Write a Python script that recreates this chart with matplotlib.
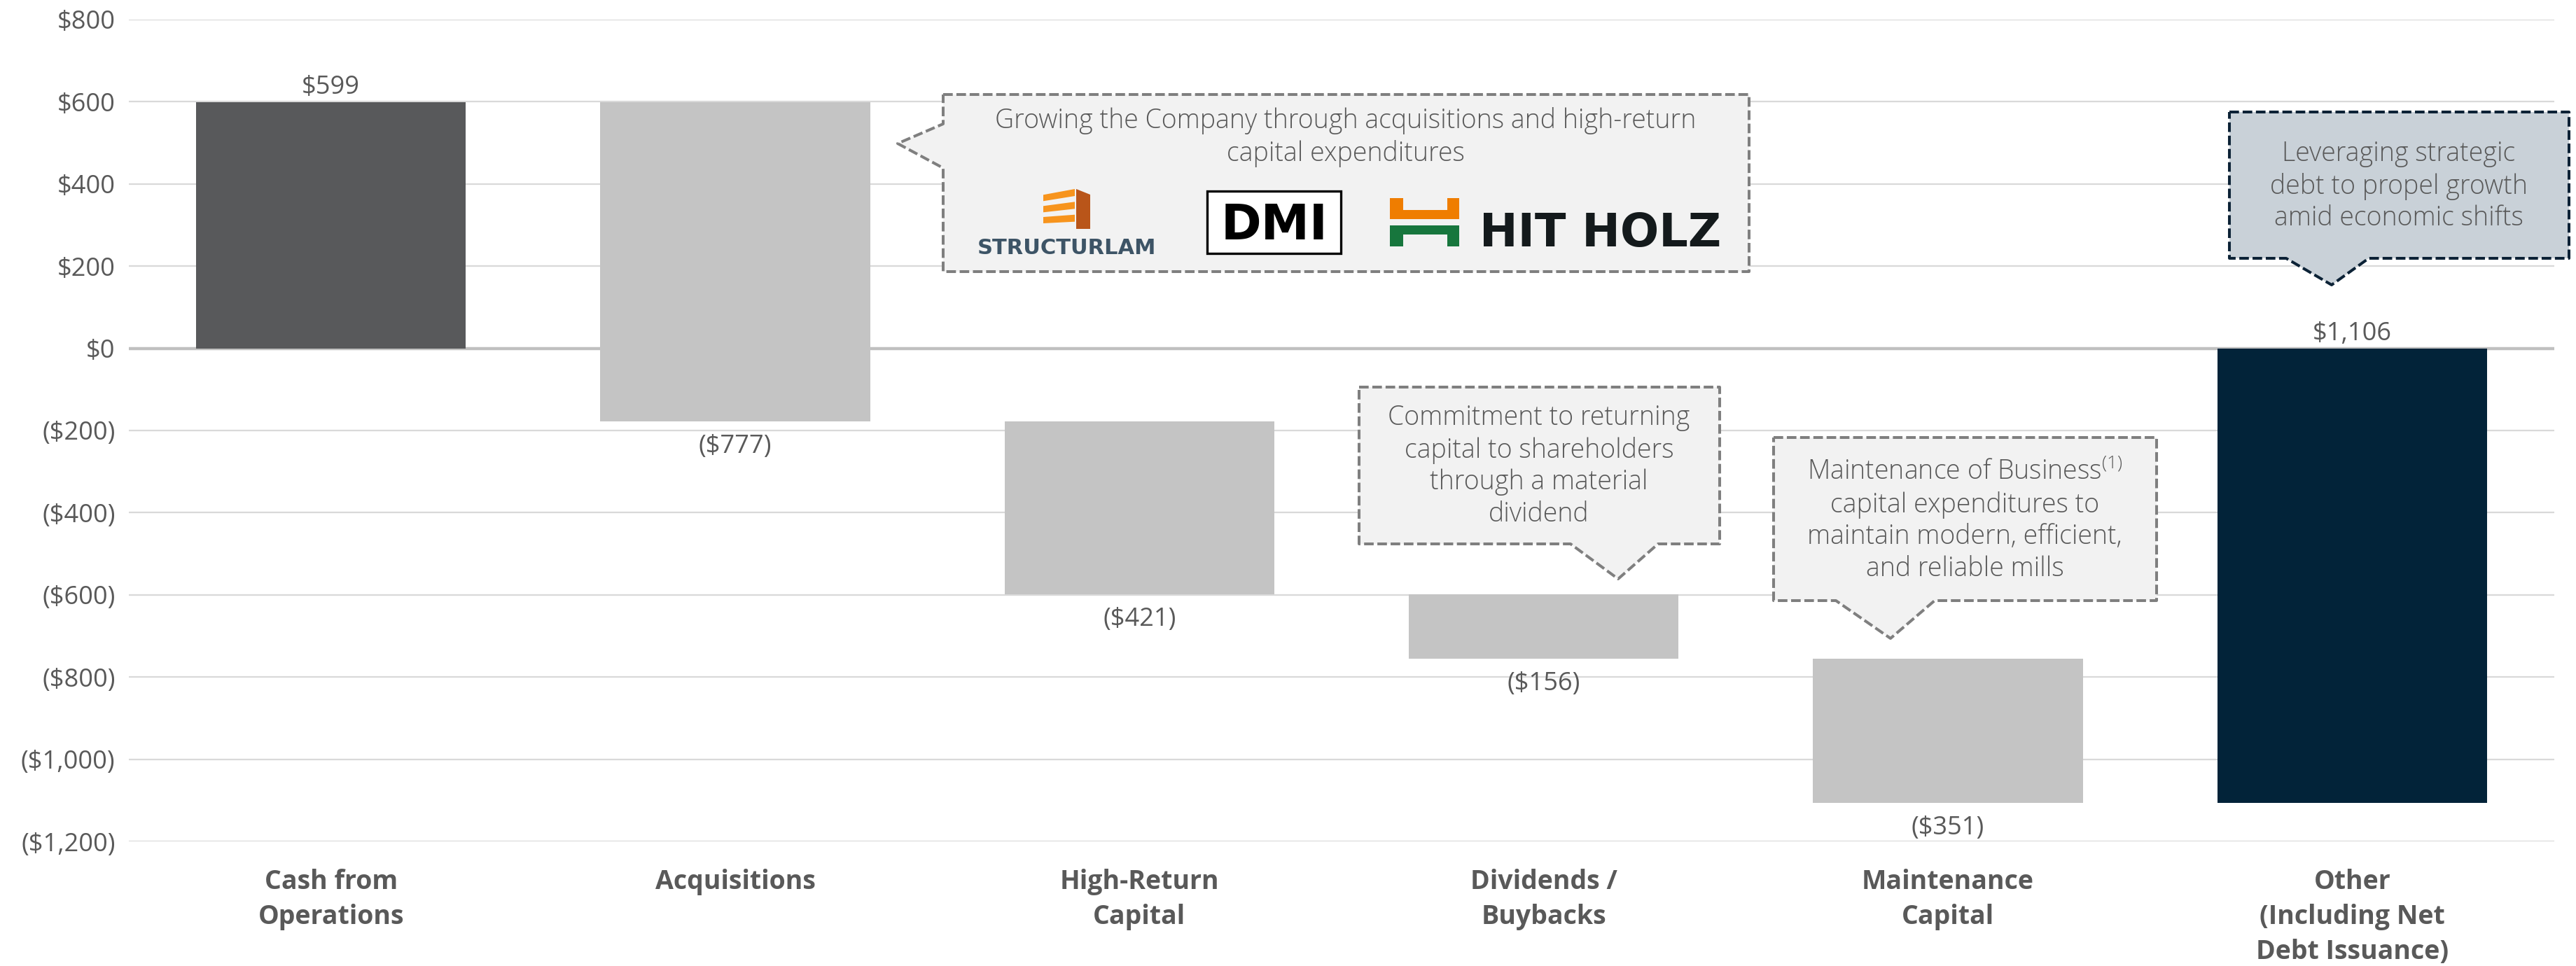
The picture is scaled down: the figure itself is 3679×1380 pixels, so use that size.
import matplotlib
matplotlib.use("Agg")
import matplotlib.pyplot as plt
from matplotlib.patches import Polygon, Rectangle
from matplotlib.transforms import Affine2D

# ---------------- data ----------------
categories = ["Cash from\nOperations", "Acquisitions", "High-Return\nCapital",
              "Dividends /\nBuybacks", "Maintenance\nCapital",
              "Other\n(Including Net\nDebt Issuance)"]
flows = [599, -777, -421, -156, -351]          # sequential cash movements
value_labels = ["$599", "($777)", "($421)", "($156)", "($351)", "$1,106"]
y_ticks = [800, 600, 400, 200, 0, -200, -400, -600, -800, -1000, -1200]
y_tick_labels = ["$800", "$600", "$400", "$200", "$0", "($200)", "($400)",
                 "($600)", "($800)", "($1,000)", "($1,200)"]

callout_acq = "Growing the Company through acquisitions and high-return\ncapital expenditures"
callout_div = "Commitment to returning\ncapital to shareholders\nthrough a material\ndividend"
callout_mnt = ("Maintenance of Business$^{\\mathregular{(1)}}$\ncapital expenditures to\n"
               "maintain modern, efficient,\nand reliable mills")
callout_oth = "Leveraging strategic\ndebt to propel growth\namid economic shifts"

# ---------------- style ----------------
W, H = 3679, 1380
TXT = "#595959"
FONT = ["Open Sans", "DejaVu Sans"]
LIGHT = ["Open Sans Light", "Open Sans", "DejaVu Sans"]
plt.rcParams["font.family"] = FONT

fig = plt.figure(figsize=(W / 100, H / 100), dpi=100, facecolor="white")
ax = fig.add_axes([184 / W, 1 - 1202 / H, (3648 - 184) / W, (1202 - 28) / H])

# waterfall geometry from the flows
bottoms, heights = [], []
level = 0
for f in flows:
    bottoms.append(level)
    heights.append(f)
    level += f
bottoms.append(0)          # balancing "Other" bar
heights.append(level)
colors = ["#58595b"] + ["#c4c4c4"] * 4 + ["#022339"]
xs = list(range(len(categories)))

ax.bar(xs, heights, bottom=bottoms, width=0.667, color=colors, zorder=3)

for i, lab in enumerate(value_labels):
    if i == 0:
        ax.annotate(lab, (xs[i], bottoms[i] + heights[i]), xytext=(0, 2),
                    textcoords="offset points", ha="center", va="bottom",
                    fontsize=26, color=TXT, zorder=5)
    elif i == len(value_labels) - 1:
        ax.annotate(lab, (xs[i], 0), xytext=(0, 2), textcoords="offset points",
                    ha="center", va="bottom", fontsize=26, color=TXT, zorder=5)
    else:
        ax.annotate(lab, (xs[i], bottoms[i] + heights[i]), xytext=(0, -13),
                    textcoords="offset points", ha="center", va="top",
                    fontsize=26, color=TXT, zorder=5)

ax.set_xlim(-0.5, len(categories) - 0.5)
ax.set_ylim(-1200, 800)
ax.set_yticks(y_ticks, y_tick_labels)
ax.set_xticks(xs, categories)
for t in ax.get_xticklabels():
    t.set_fontweight("bold")
    t.set_linespacing(1.42)
ax.tick_params(axis="y", length=0, pad=14, labelsize=26, labelcolor=TXT)
ax.tick_params(axis="x", length=0, pad=28, labelsize=27, labelcolor=TXT)
ax.grid(axis="y", color="#d9d9d9", lw=1.6, zorder=0)
ax.set_axisbelow(True)
ax.axhline(0, color="#c0c0c0", lw=3.2, zorder=2)
for s in ax.spines.values():
    s.set_visible(False)

# ---------------- callouts (figure-pixel layout) ----------------
pxt = Affine2D().scale(1 / W, -1 / H).translate(0, 1) + fig.transFigure
DASH = (0, (3.4, 1.3))


def callout(verts, fc, ec, text, cx, cy):
    p = Polygon(verts, closed=True, transform=pxt, facecolor=fc, edgecolor=ec,
                lw=2.9, linestyle=DASH, joinstyle="round", zorder=4)
    fig.add_artist(p)
    fig.text(cx, cy, text, transform=pxt, ha="center", va="center",
             fontsize=27, color=TXT, fontweight="light", linespacing=1.25,
             family=LIGHT, zorder=5)


callout([(1347, 135), (2498, 135), (2498, 388), (1347, 388), (1347, 240),
         (1282, 205), (1347, 177)], "#f2f2f2", "#7f7f7f", callout_acq, 1922, 196)
callout([(1941, 553), (2456, 553), (2456, 777), (2368, 777), (2311, 827),
         (2243, 777), (1941, 777)], "#f2f2f2", "#7f7f7f", callout_div, 2198, 666)
callout([(2533, 625), (3080, 625), (3080, 858), (2763, 858), (2700, 912),
         (2622, 858), (2533, 858)], "#f2f2f2", "#7f7f7f", callout_mnt, 2806, 744)
callout([(3184, 160), (3669, 160), (3669, 369), (3383, 369), (3330, 407),
         (3265, 369), (3184, 369)], "#c9d1d8", "#0c2236", callout_oth, 3426, 266)

# ---------------- logos inside the acquisitions callout ----------------
for poly in ([(1490, 278.3), (1535, 270), (1535, 280), (1490, 287.3)],
             [(1490, 294.3), (1535, 288.3), (1535, 298.3), (1490, 303.3)],
             [(1490, 310), (1535, 306.7), (1535, 316.7), (1490, 319)]):
    fig.add_artist(Polygon(poly, closed=True, transform=pxt, facecolor="#f7941d",
                           edgecolor="none", zorder=6))
fig.add_artist(Polygon([(1537, 270), (1557, 278), (1557, 327), (1537, 327)],
                       closed=True, transform=pxt, facecolor="#b95519",
                       edgecolor="none", zorder=6))
fig.text(1523, 363, "STRUCTURLAM", transform=pxt, ha="center", va="baseline",
         fontsize=22, fontweight="bold", color="#3d5466",
         family=["DejaVu Sans"], zorder=6)

fig.add_artist(Rectangle((1724, 273), 191, 89, transform=pxt, facecolor="white",
                         edgecolor="black", lw=2.4, zorder=6))
fig.text(1820, 342, "DMI", transform=pxt, ha="center", va="baseline",
         fontsize=50, fontweight="bold", color="black",
         family=["DejaVu Sans"], zorder=7)

fig.add_artist(Polygon([(1985, 283), (2003.5, 283), (2003.5, 300), (2067, 300),
                        (2067, 283), (2084, 283), (2084, 313), (1985, 313)],
                       closed=True, transform=pxt, facecolor="#ef7d00",
                       edgecolor="none", zorder=6))
fig.add_artist(Polygon([(1985, 322), (2084, 322), (2084, 352), (2067, 352),
                        (2067, 335), (2003.5, 335), (2003.5, 352), (1985, 352)],
                       closed=True, transform=pxt, facecolor="#17763d",
                       edgecolor="none", zorder=6))
fig.text(2113, 352, "HIT HOLZ", transform=pxt, ha="left", va="baseline",
         fontsize=47, fontweight="bold", color="#141a1c",
         family=["DejaVu Sans Condensed", "Liberation Sans Narrow", "DejaVu Sans"],
         zorder=6)

fig.savefig("out.png", dpi=100, facecolor="white")
